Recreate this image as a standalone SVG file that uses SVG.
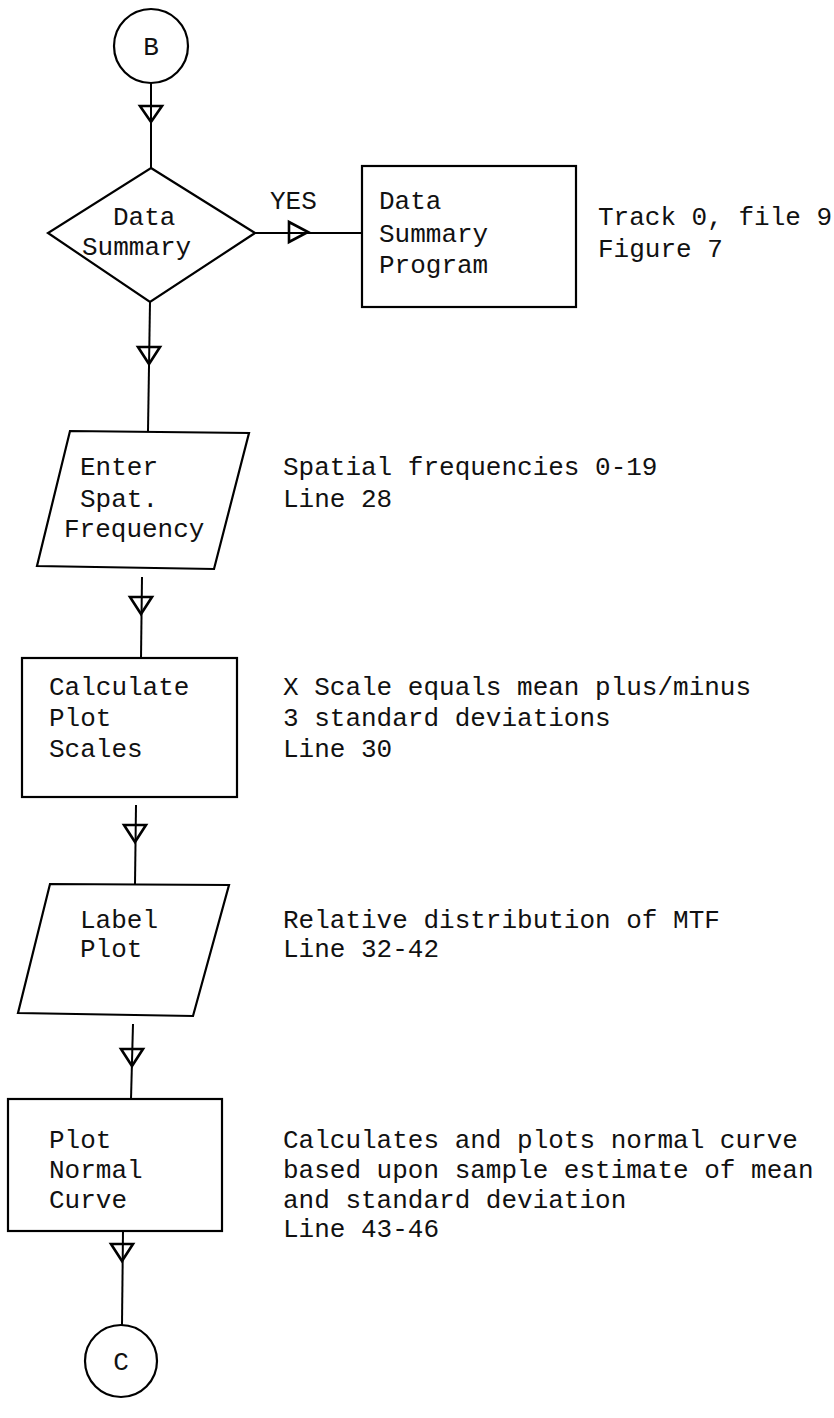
<svg xmlns="http://www.w3.org/2000/svg" width="834" height="1418" viewBox="0 0 834 1418">
<style>
.shape{fill:none;stroke:#000;stroke-width:2.2}
.line{fill:none;stroke:#000;stroke-width:2}
.arrow{fill:none;stroke:#000;stroke-width:2.6;stroke-linejoin:miter}
text{font-family:"Liberation Mono","Courier New",monospace;font-size:26px;fill:#111}
</style>
<rect width="834" height="1418" fill="#fff"/>
<g id="connectors">
<line class="line" x1="151" y1="83" x2="151" y2="168"/>
<polygon class="arrow" points="140,106 162,106 151,122"/>
<line class="line" x1="255" y1="233" x2="362" y2="233"/>
<polygon class="arrow" points="289,222 289,242 308,232"/>
<line class="line" x1="150" y1="302" x2="148" y2="431"/>
<polygon class="arrow" points="138,347 160,347 149,364"/>
<line class="line" x1="142" y1="577" x2="141" y2="658"/>
<polygon class="arrow" points="130,597 152,597 141,614"/>
<line class="line" x1="136" y1="805" x2="135" y2="884"/>
<polygon class="arrow" points="124,825 146,825 135,842"/>
<line class="line" x1="133" y1="1024" x2="131" y2="1099"/>
<polygon class="arrow" points="121,1049 143,1049 132,1066"/>
<line class="line" x1="123" y1="1231" x2="122" y2="1325"/>
<polygon class="arrow" points="111,1244 133,1244 122,1261"/>
<text x="270" y="209">YES</text>
</g>
<g id="node-B">
<circle class="shape" cx="151" cy="46" r="37"/>
<text x="151" y="55" text-anchor="middle">B</text>
</g>
<g id="node-data-summary">
<polygon class="shape" points="151,168 255,233 150,302 48,233"/>
<text x="113" y="225">Data</text>
<text x="82" y="255">Summary</text>
</g>
<g id="node-data-summary-program">
<rect class="shape" x="362" y="166" width="214" height="141"/>
<text x="379" y="209">Data</text>
<text x="379" y="242">Summary</text>
<text x="379" y="273">Program</text>
</g>
<g id="note-track">
<text x="598" y="225">Track 0, file 9</text>
<text x="598" y="257">Figure 7</text>
</g>
<g id="node-enter-freq">
<polygon class="shape" points="70,431 249,433 214,569 37,566"/>
<text x="80" y="475">Enter</text>
<text x="80" y="507">Spat.</text>
<text x="64" y="537">Frequency</text>
</g>
<g id="note-freq">
<text x="283" y="475">Spatial frequencies 0-19</text>
<text x="283" y="507">Line 28</text>
</g>
<g id="node-calc-scales">
<rect class="shape" x="22" y="658" width="215" height="139"/>
<text x="49" y="695">Calculate</text>
<text x="49" y="726">Plot</text>
<text x="49" y="757">Scales</text>
</g>
<g id="note-scales">
<text x="283" y="695">X Scale equals mean plus/minus</text>
<text x="283" y="726">3 standard deviations</text>
<text x="283" y="757">Line 30</text>
</g>
<g id="node-label-plot">
<polygon class="shape" points="50,884 229,885 193,1016 18,1013"/>
<text x="80" y="928">Label</text>
<text x="80" y="957">Plot</text>
</g>
<g id="note-label">
<text x="283" y="928">Relative distribution of MTF</text>
<text x="283" y="957">Line 32-42</text>
</g>
<g id="node-plot-curve">
<rect class="shape" x="8" y="1099" width="214" height="132"/>
<text x="49" y="1148">Plot</text>
<text x="49" y="1178">Normal</text>
<text x="49" y="1208">Curve</text>
</g>
<g id="note-curve">
<text x="283" y="1148">Calculates and plots normal curve</text>
<text x="283" y="1178">based upon sample estimate of mean</text>
<text x="283" y="1208">and standard deviation</text>
<text x="283" y="1237">Line 43-46</text>
</g>
<g id="node-C">
<circle class="shape" cx="121" cy="1361" r="36"/>
<text x="121" y="1370" text-anchor="middle">C</text>
</g>
</svg>
